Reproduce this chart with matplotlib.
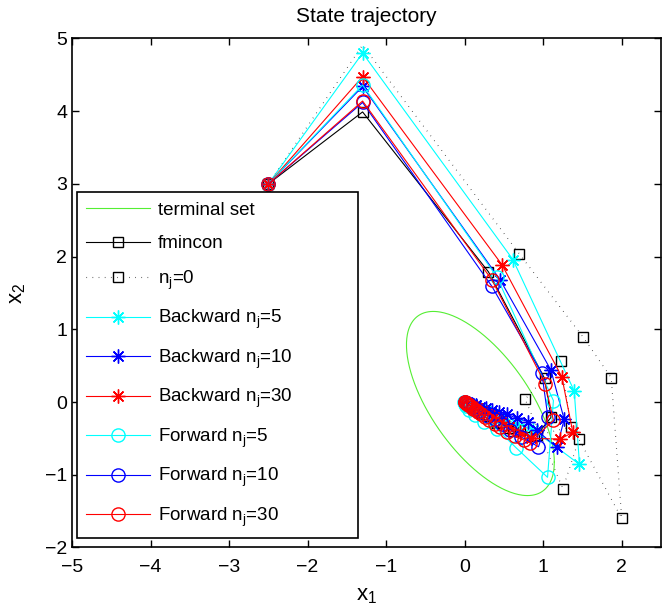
import numpy as np
import matplotlib
matplotlib.use('Agg')
import matplotlib.pyplot as plt

plt.rcParams['font.family'] = 'Liberation Sans'
plt.rcParams['mathtext.fontset'] = 'custom'
plt.rcParams['mathtext.rm'] = 'Liberation Sans'
plt.rcParams['mathtext.it'] = 'Liberation Sans'

# terminal set: x' P x <= 1
P = np.array([[1.9, 0.9], [0.9, 1.05]])
center = [0.2, -0.02]

fmin_x = [-2.5, -1.3, 0.303, 1.017, 1.10, 0.92, 0.71, 0.55, 0.40, 0.28, 0.18, 0.11, 0.06, 0.03, 0.0]
fmin_y = [3.0, 3.99, 1.79, 0.326, -0.21, -0.45, -0.39, -0.36, -0.27, -0.19, -0.13, -0.08, -0.05, -0.02, 0.0]

nj0_x = [-2.5, -1.3, 0.694, 1.51, 1.866, 2.0, 1.455, 1.25, 0.77, 1.225, 1.357, 0.88, 0.62, 0.40, 0.22, 0.10, 0.03]
nj0_y = [3.0, 4.91, 2.04, 0.89, 0.334, -1.6, -0.513, -1.19, 0.04, 0.568, -0.34, -0.47, -0.40, -0.29, -0.17, -0.08, -0.02]
nj0_marked = [0] + list(range(2, len(nj0_x)))

bw5_x = [-2.5, -1.3, 0.614, 1.395, 1.462, 0.876, 0.66, 0.50, 0.37, 0.27, 0.19, 0.13, 0.08, 0.05, 0.02, 0.0]
bw5_y = [3.0, 4.80, 1.96, 0.152, -0.857, -0.385, -0.30, -0.23, -0.17, -0.12, -0.085, -0.06, -0.04, -0.02, -0.01, 0.0]

bw10_x = [-2.5, -1.3, 0.452, 1.098, 1.267, 1.174, 0.92, 0.81, 0.66, 0.54, 0.44, 0.35, 0.27, 0.20, 0.14, 0.09, 0.05, 0.02]
bw10_y = [3.0, 4.34, 1.68, 0.44, -0.238, -0.625, -0.39, -0.27, -0.22, -0.17, -0.14, -0.11, -0.085, -0.065, -0.045, -0.03, -0.015, -0.005]

bw30_x = [-2.5, -1.3, 0.474, 1.237, 1.377, 1.216, 0.85, 0.70, 0.57, 0.46, 0.37, 0.29, 0.22, 0.16, 0.11, 0.07, 0.04, 0.01]
bw30_y = [3.0, 4.475, 1.89, 0.348, -0.417, -0.509, -0.50, -0.41, -0.34, -0.27, -0.21, -0.16, -0.12, -0.085, -0.06, -0.035, -0.02, 0.0]

fw5_x = [-2.5, -1.3, 0.41, 1.13, 1.055, 0.656, 0.41, 0.24, 0.13, 0.06, 0.02, 0.0, -0.01]
fw5_y = [3.0, 4.36, 1.72, 0.02, -1.035, -0.63, -0.37, -0.27, -0.18, -0.11, -0.06, -0.02, 0.0]

fw10_x = [-2.5, -1.3, 0.347, 0.983, 1.06, 0.94, 0.72, 0.58, 0.47, 0.38, 0.30, 0.24, 0.19, 0.14, 0.10, 0.07, 0.04, 0.02, 0.0]
fw10_y = [3.0, 4.12, 1.59, 0.395, -0.21, -0.615, -0.48, -0.38, -0.30, -0.24, -0.19, -0.15, -0.12, -0.09, -0.065, -0.045, -0.03, -0.015, 0.0]

fw30_x = [-2.5, -1.3, 0.347, 1.025, 1.13, 0.83, 0.75, 0.64, 0.54, 0.45, 0.38, 0.31, 0.26, 0.21, 0.17,
          0.14, 0.11, 0.09, 0.07, 0.05, 0.04, 0.03, 0.02, 0.01, 0.0]
fw30_y = [3.0, 4.14, 1.68, 0.25, -0.25, -0.56, -0.52, -0.47, -0.41, -0.35, -0.30, -0.25, -0.20, -0.165, -0.135,
          -0.11, -0.09, -0.07, -0.055, -0.04, -0.03, -0.02, -0.012, -0.006, 0.0]

# ellipse boundary of the terminal set
t = np.linspace(0, 2*np.pi, 300)
L = np.linalg.cholesky(np.linalg.inv(P))
circ = np.vstack([np.cos(t), np.sin(t)])
ell = L @ circ
ell_x = ell[0] + center[0]
ell_y = ell[1] + center[1]

fig = plt.figure(figsize=(6.65, 6.13), dpi=100)
ax = fig.add_axes([0.1083, 0.1069, 0.8857, 0.8303])

cyan = '#00ffff'
aster = (8, 2, 0)
lw = 0.8
ax.plot(ell_x, ell_y, color='#55ee33', lw=lw, label='terminal set')
ax.plot(fmin_x, fmin_y, 'k-', marker='s', mfc='none', ms=7.5, lw=lw, label='fmincon')
ax.plot(nj0_x, nj0_y, color='k', ls=(0, (0.5, 5)), marker='s', mfc='none', ms=7.5, lw=lw,
        markevery=nj0_marked, label=r'n$_\mathrm{j}$=0')
ax.plot(bw5_x, bw5_y, color=cyan, marker=aster, ms=10, lw=lw, label=r'Backward n$_\mathrm{j}$=5')
ax.plot(bw10_x, bw10_y, color='b', marker=aster, ms=10, lw=lw, label=r'Backward n$_\mathrm{j}$=10')
ax.plot(bw30_x, bw30_y, color='r', marker=aster, ms=10, lw=lw, label=r'Backward n$_\mathrm{j}$=30')
ax.plot(fw5_x, fw5_y, color=cyan, marker='o', mfc='none', ms=9.5, lw=lw, label=r'Forward n$_\mathrm{j}$=5')
ax.plot(fw10_x, fw10_y, color='b', marker='o', mfc='none', ms=9.5, lw=lw, label=r'Forward n$_\mathrm{j}$=10')
ax.plot(fw30_x, fw30_y, color='r', marker='o', mfc='none', ms=9.5, lw=lw, label=r'Forward n$_\mathrm{j}$=30')

ax.set_xlim(-5, 2.5)
ax.set_ylim(-2, 5)
ax.set_xticks(range(-5, 3))
ax.set_yticks(range(-2, 6))
ax.tick_params(direction='in', top=True, right=True, length=5, width=1, labelsize=14)
ax.tick_params(axis='x', pad=8.5)
for s in ax.spines.values():
    s.set_linewidth(1.2)
ax.set_xlabel(r'x$_\mathrm{1}$', fontsize=16, labelpad=6)
ax.set_ylabel(r'x$_\mathrm{2}$', fontsize=16, labelpad=12)
ax.set_title('State trajectory', fontsize=15, pad=12)

leg = ax.legend(loc='upper left', bbox_to_anchor=(0.0085, 0.0206, 0.4775, 0.677), mode='expand',
                fontsize=13.5, handlelength=3.4, handletextpad=0.4, labelspacing=0.87,
                borderpad=0.5, borderaxespad=0, fancybox=False, edgecolor='k', framealpha=1)
leg.get_frame().set_linewidth(1.2)

fig.savefig('out.png', dpi=100)
